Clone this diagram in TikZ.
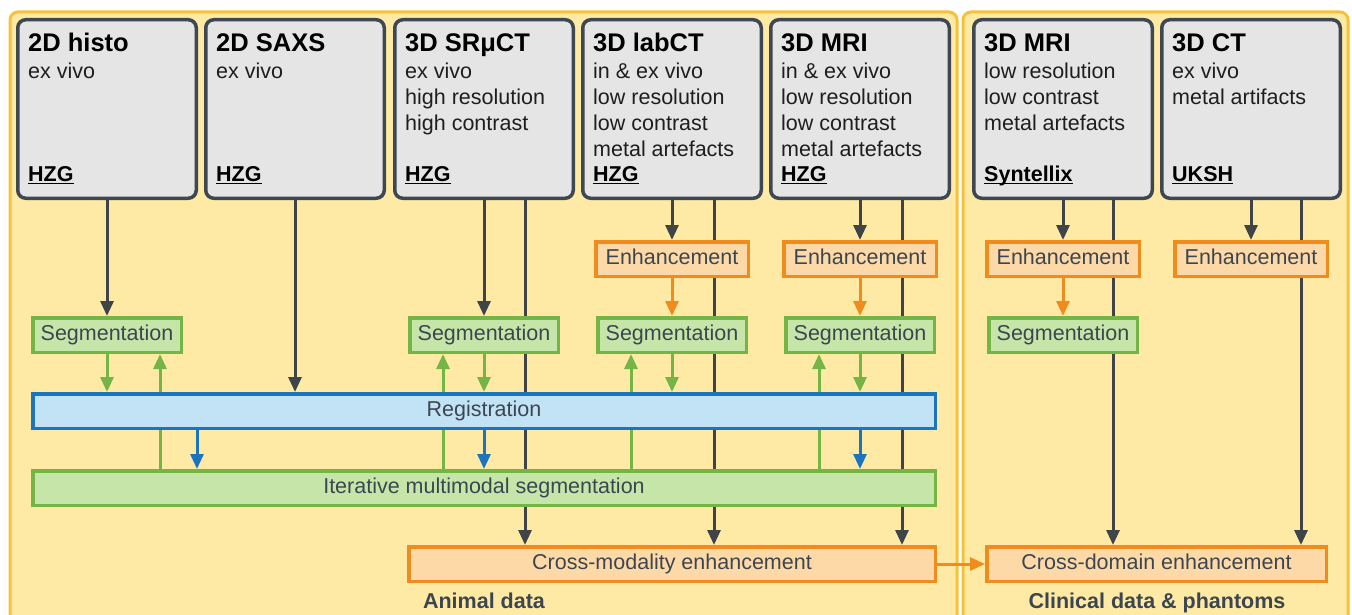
\documentclass[tikz,border=0pt]{standalone}
\usepackage{fontspec}
\setmainfont{Liberation Sans}
\usetikzlibrary{arrows.meta,calc}
\pgfdeclarelayer{panel}
\pgfdeclarelayer{links}
\pgfsetlayers{panel,links,main}
\definecolor{panelfill}{HTML}{FFEAA5}
\definecolor{paneldraw}{HTML}{F9C13A}
\definecolor{boxfill}{HTML}{E5E5E5}
\definecolor{boxdraw}{HTML}{3D4853}
\definecolor{segfill}{HTML}{C6E6A9}
\definecolor{segdraw}{HTML}{74B546}
\definecolor{enhfill}{HTML}{FDD9A8}
\definecolor{enhdraw}{HTML}{F08B1D}
\definecolor{regfill}{HTML}{C2E3F6}
\definecolor{regdraw}{HTML}{1C75BC}
\definecolor{darkline}{HTML}{3F4449}
\definecolor{labeltext}{HTML}{3C4650}
\definecolor{bodytext}{HTML}{1E1E1E}
\begin{document}
\begin{tikzpicture}[x=1pt,y=-1pt,
  panelbox/.style={draw=paneldraw,fill=panelfill,line width=3pt,rounded corners=8pt},
  srcbox/.style={draw=boxdraw,fill=boxfill,line width=3.5pt,rounded corners=8pt,minimum width=178.5pt,minimum height=178.5pt,inner sep=0pt},
  titletext/.style={anchor=base west,inner sep=0pt,font=\fontsize{25.5}{30}\selectfont\bfseries,text=black},
  bodylines/.style={anchor=base west,inner sep=0pt,font=\fontsize{21.5}{26}\selectfont,text=bodytext},
  orgtext/.style={anchor=base west,inner sep=0pt,font=\fontsize{21.5}{26}\selectfont\bfseries,text=black},
  procbox/.style={line width=3.5pt,minimum height=34.5pt,inner sep=0pt,text height=15.5pt,text depth=4.5pt,font=\fontsize{21.5}{26}\selectfont,text=labeltext},
  segbox/.style={procbox,draw=segdraw,fill=segfill,minimum width=148.5pt},
  enhbox/.style={procbox,draw=enhdraw,fill=enhfill,minimum width=152.5pt},
  regbox/.style={procbox,draw=regdraw,fill=regfill},
  iterbox/.style={procbox,draw=segdraw,fill=segfill},
  crossbox/.style={procbox,draw=enhdraw,fill=enhfill},
  grouplabel/.style={anchor=base,inner sep=0pt,font=\fontsize{21.5}{26}\selectfont\bfseries,text=labeltext},
  darr/.style={draw=darkline,line width=3pt,-{Triangle[length=15pt,width=13pt]}},
  garr/.style={draw=segdraw,line width=3pt,-{Triangle[length=15pt,width=13pt]}},
  barr/.style={draw=regdraw,line width=3pt,-{Triangle[length=15pt,width=13pt]}},
  oarr/.style={draw=enhdraw,line width=3pt,-{Triangle[length=15pt,width=13pt]}}
]
\useasboundingbox (0,0) rectangle (1352,615);

\begin{pgfonlayer}{panel}
\fill[white] (0,0) rectangle (1352,615);
\begin{scope}
\clip (0,0) rectangle (1352,615);
\draw[panelbox] (10,12) rectangle (957,640);
\draw[panelbox] (963,12) rectangle (1348,640);
\end{scope}
\end{pgfonlayer}

% x positions
\coordinate (c160) at (160,0);
\coordinate (c197) at (197,0);
\coordinate (c443) at (443,0);
\coordinate (c484) at (484,0);
\coordinate (c525) at (525,0);
\coordinate (c631) at (631,0);
\coordinate (c714) at (714,0);
\coordinate (c819) at (819,0);
\coordinate (c860) at (860,0);
\coordinate (c902) at (902,0);
\coordinate (c1113) at (1113,0);
\coordinate (c1301) at (1301,0);

% source boxes
\node[srcbox] (b1) at (107,109) {};
\node[srcbox] (b2) at (295,109) {};
\node[srcbox] (b3) at (484,109) {};
\node[srcbox] (b4) at (672,109) {};
\node[srcbox] (b5) at (860,109) {};
\node[srcbox] (bc1) at (1063,109) {};
\node[srcbox] (bc2) at (1251,109) {};

\node[titletext] (t1) at ($(b1.north west)+(12,34)$) {2D histo};
\node[bodylines] (d1) at ($(b1.north west)+(12,61)$) {\begin{tabular}[t]{@{}l@{}}ex vivo\end{tabular}};
\node[orgtext] (o1) at ($(b1.north west)+(12,164)$) {\underline{\smash{HZG}}};

\node[titletext] (t2) at ($(b2.north west)+(12,34)$) {2D SAXS};
\node[bodylines] (d2) at ($(b2.north west)+(12,61)$) {\begin{tabular}[t]{@{}l@{}}ex vivo\end{tabular}};
\node[orgtext] (o2) at ($(b2.north west)+(12,164)$) {\underline{\smash{HZG}}};

\node[titletext] (t3) at ($(b3.north west)+(12,34)$) {3D SRμCT};
\node[bodylines] (d3) at ($(b3.north west)+(12,61)$) {\begin{tabular}[t]{@{}l@{}}ex vivo\\high resolution\\high contrast\end{tabular}};
\node[orgtext] (o3) at ($(b3.north west)+(12,164)$) {\underline{\smash{HZG}}};

\node[titletext] (t4) at ($(b4.north west)+(12,34)$) {3D labCT};
\node[bodylines] (d4) at ($(b4.north west)+(12,61)$) {\begin{tabular}[t]{@{}l@{}}in \& ex vivo\\low resolution\\low contrast\\metal artefacts\end{tabular}};
\node[orgtext] (o4) at ($(b4.north west)+(12,164)$) {\underline{\smash{HZG}}};

\node[titletext] (t5) at ($(b5.north west)+(12,34)$) {3D MRI};
\node[bodylines] (d5) at ($(b5.north west)+(12,61)$) {\begin{tabular}[t]{@{}l@{}}in \& ex vivo\\low resolution\\low contrast\\metal artefacts\end{tabular}};
\node[orgtext] (o5) at ($(b5.north west)+(12,164)$) {\underline{\smash{HZG}}};

\node[titletext] (tc1) at ($(bc1.north west)+(12,34)$) {3D MRI};
\node[bodylines] (dc1) at ($(bc1.north west)+(12,61)$) {\begin{tabular}[t]{@{}l@{}}low resolution\\low contrast\\metal artefacts\end{tabular}};
\node[orgtext] (oc1) at ($(bc1.north west)+(12,164)$) {\underline{\smash{Syntellix}}};

\node[titletext] (tc2) at ($(bc2.north west)+(12,34)$) {3D CT};
\node[bodylines] (dc2) at ($(bc2.north west)+(12,61)$) {\begin{tabular}[t]{@{}l@{}}ex vivo\\metal artifacts\end{tabular}};
\node[orgtext] (oc2) at ($(bc2.north west)+(12,164)$) {\underline{\smash{UKSH}}};

% enhancement
\node[enhbox] (e4) at (672,259) {Enhancement};
\node[enhbox] (e5) at (860,259) {Enhancement};
\node[enhbox] (ec1) at (1063,259) {Enhancement};
\node[enhbox] (ec2) at (1251,259) {Enhancement};

% segmentation
\node[segbox] (s1) at (107,335) {Segmentation};
\node[segbox] (s3) at (484,335) {Segmentation};
\node[segbox] (s4) at (672,335) {Segmentation};
\node[segbox] (s5) at (860,335) {Segmentation};
\node[segbox] (sc1) at (1063,335) {Segmentation};

% wide boxes
\node[regbox,minimum width=902.5pt] (reg) at (484,411) {Registration};
\node[iterbox,minimum width=902.5pt] (iter) at (484,488) {Iterative multimodal segmentation};
\node[crossbox,minimum width=526.5pt] (cm) at (672,564) {Cross-modality enhancement};
\node[crossbox,minimum width=339.5pt] (cd) at (1156.5,564) {Cross-domain enhancement};

\node[grouplabel] (la) at (484,608) {Animal data};
\node[grouplabel] (lc) at (1157,608) {Clinical data \& phantoms};

\begin{pgfonlayer}{links}
% dark arrows from sources
\draw[darr] (b1) -- (s1);
\draw[darr] (b2.south) -- (b2.south |- reg.north);
\draw[darr] (b3) -- (s3);
\draw[darr] (b4) -- (e4);
\draw[darr] (b5) -- (e5);
\draw[darr] (bc1) -- (ec1);
\draw[darr] (bc2) -- (ec2);
% pass-through lines
\draw[darr] (b3.south -| c525) -- (cm.north -| c525);
\draw[darr] (b4.south -| c714) -- (cm.north -| c714);
\draw[darr] (b5.south -| c902) -- (cm.north -| c902);
\draw[darr] (bc1.south -| c1113) -- (cd.north -| c1113);
\draw[darr] (bc2.south -| c1301) -- (cd.north -| c1301);
% orange
\draw[oarr] (e4) -- (s4);
\draw[oarr] (e5) -- (s5);
\draw[oarr] (ec1) -- (sc1);
\draw[oarr] (cm) -- (cd);
% green down to registration
\draw[garr] (s1.south) -- (s1.south |- reg.north);
\draw[garr] (s3.south) -- (s3.south |- reg.north);
\draw[garr] (s4.south) -- (s4.south |- reg.north);
\draw[garr] (s5.south) -- (s5.south |- reg.north);
% green up from iterative segmentation
\draw[garr] (iter.north -| c160) -- (s1.south -| c160);
\draw[garr] (iter.north -| c443) -- (s3.south -| c443);
\draw[garr] (iter.north -| c631) -- (s4.south -| c631);
\draw[garr] (iter.north -| c819) -- (s5.south -| c819);
% blue
\draw[barr] (reg.south -| c197) -- (iter.north -| c197);
\draw[barr] (reg.south -| c484) -- (iter.north -| c484);
\draw[barr] (reg.south -| c860) -- (iter.north -| c860);
\end{pgfonlayer}
\end{tikzpicture}
\end{document}
